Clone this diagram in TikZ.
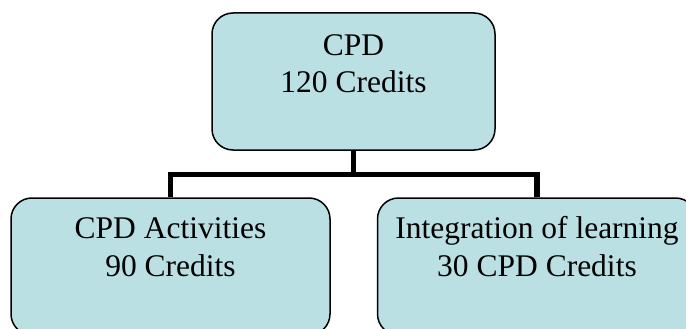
\documentclass[tikz,border=0pt]{standalone}
\usepackage{fontspec}
\setmainfont{Liberation Serif}
\definecolor{boxfill}{RGB}{187,224,227}

\tikzset{
  cpdbox/.style={draw=black, line width=1.5pt, fill=boxfill, rounded corners=21pt,
    minimum height=137pt, inner sep=0pt},
  boxtext/.style={anchor=base, align=center, inner sep=0pt,
    font=\fontsize{31.5}{37.5}\selectfont},
  link/.style={line width=5.5pt, draw=black}
}

\begin{document}
\begin{tikzpicture}[x=1pt, y=-1pt]
	\useasboundingbox (0,0) rectangle (686,329);
	\clip (0,0) rectangle (686,329);

	% boxes
	\node[cpdbox, minimum width=283pt] (cpd) at (353.5,81.5) {};
	\node[cpdbox, minimum width=319pt] (act) at (170.5,266.5) {};
	\node[cpdbox, minimum width=319pt] (integ) at (537,266.5) {};

	% texts (base = last line)
	\node[boxtext] (cpdtext) at (353.5,92.5) {CPD\\120 Credits};
	\node[boxtext] (acttext) at (170.5,276) {CPD Activities\\90 Credits};
	\node[boxtext] (integtext) at (537,276) {Integration of learning\\30 CPD Credits};

	% connectors
	\coordinate (fork) at (353.5,174.5);
	\draw[link] (cpd.south) -- (fork);
	\draw[link] (fork) -| (act.north);
	\draw[link] (fork) -| (integ.north);
\end{tikzpicture}
\end{document}
